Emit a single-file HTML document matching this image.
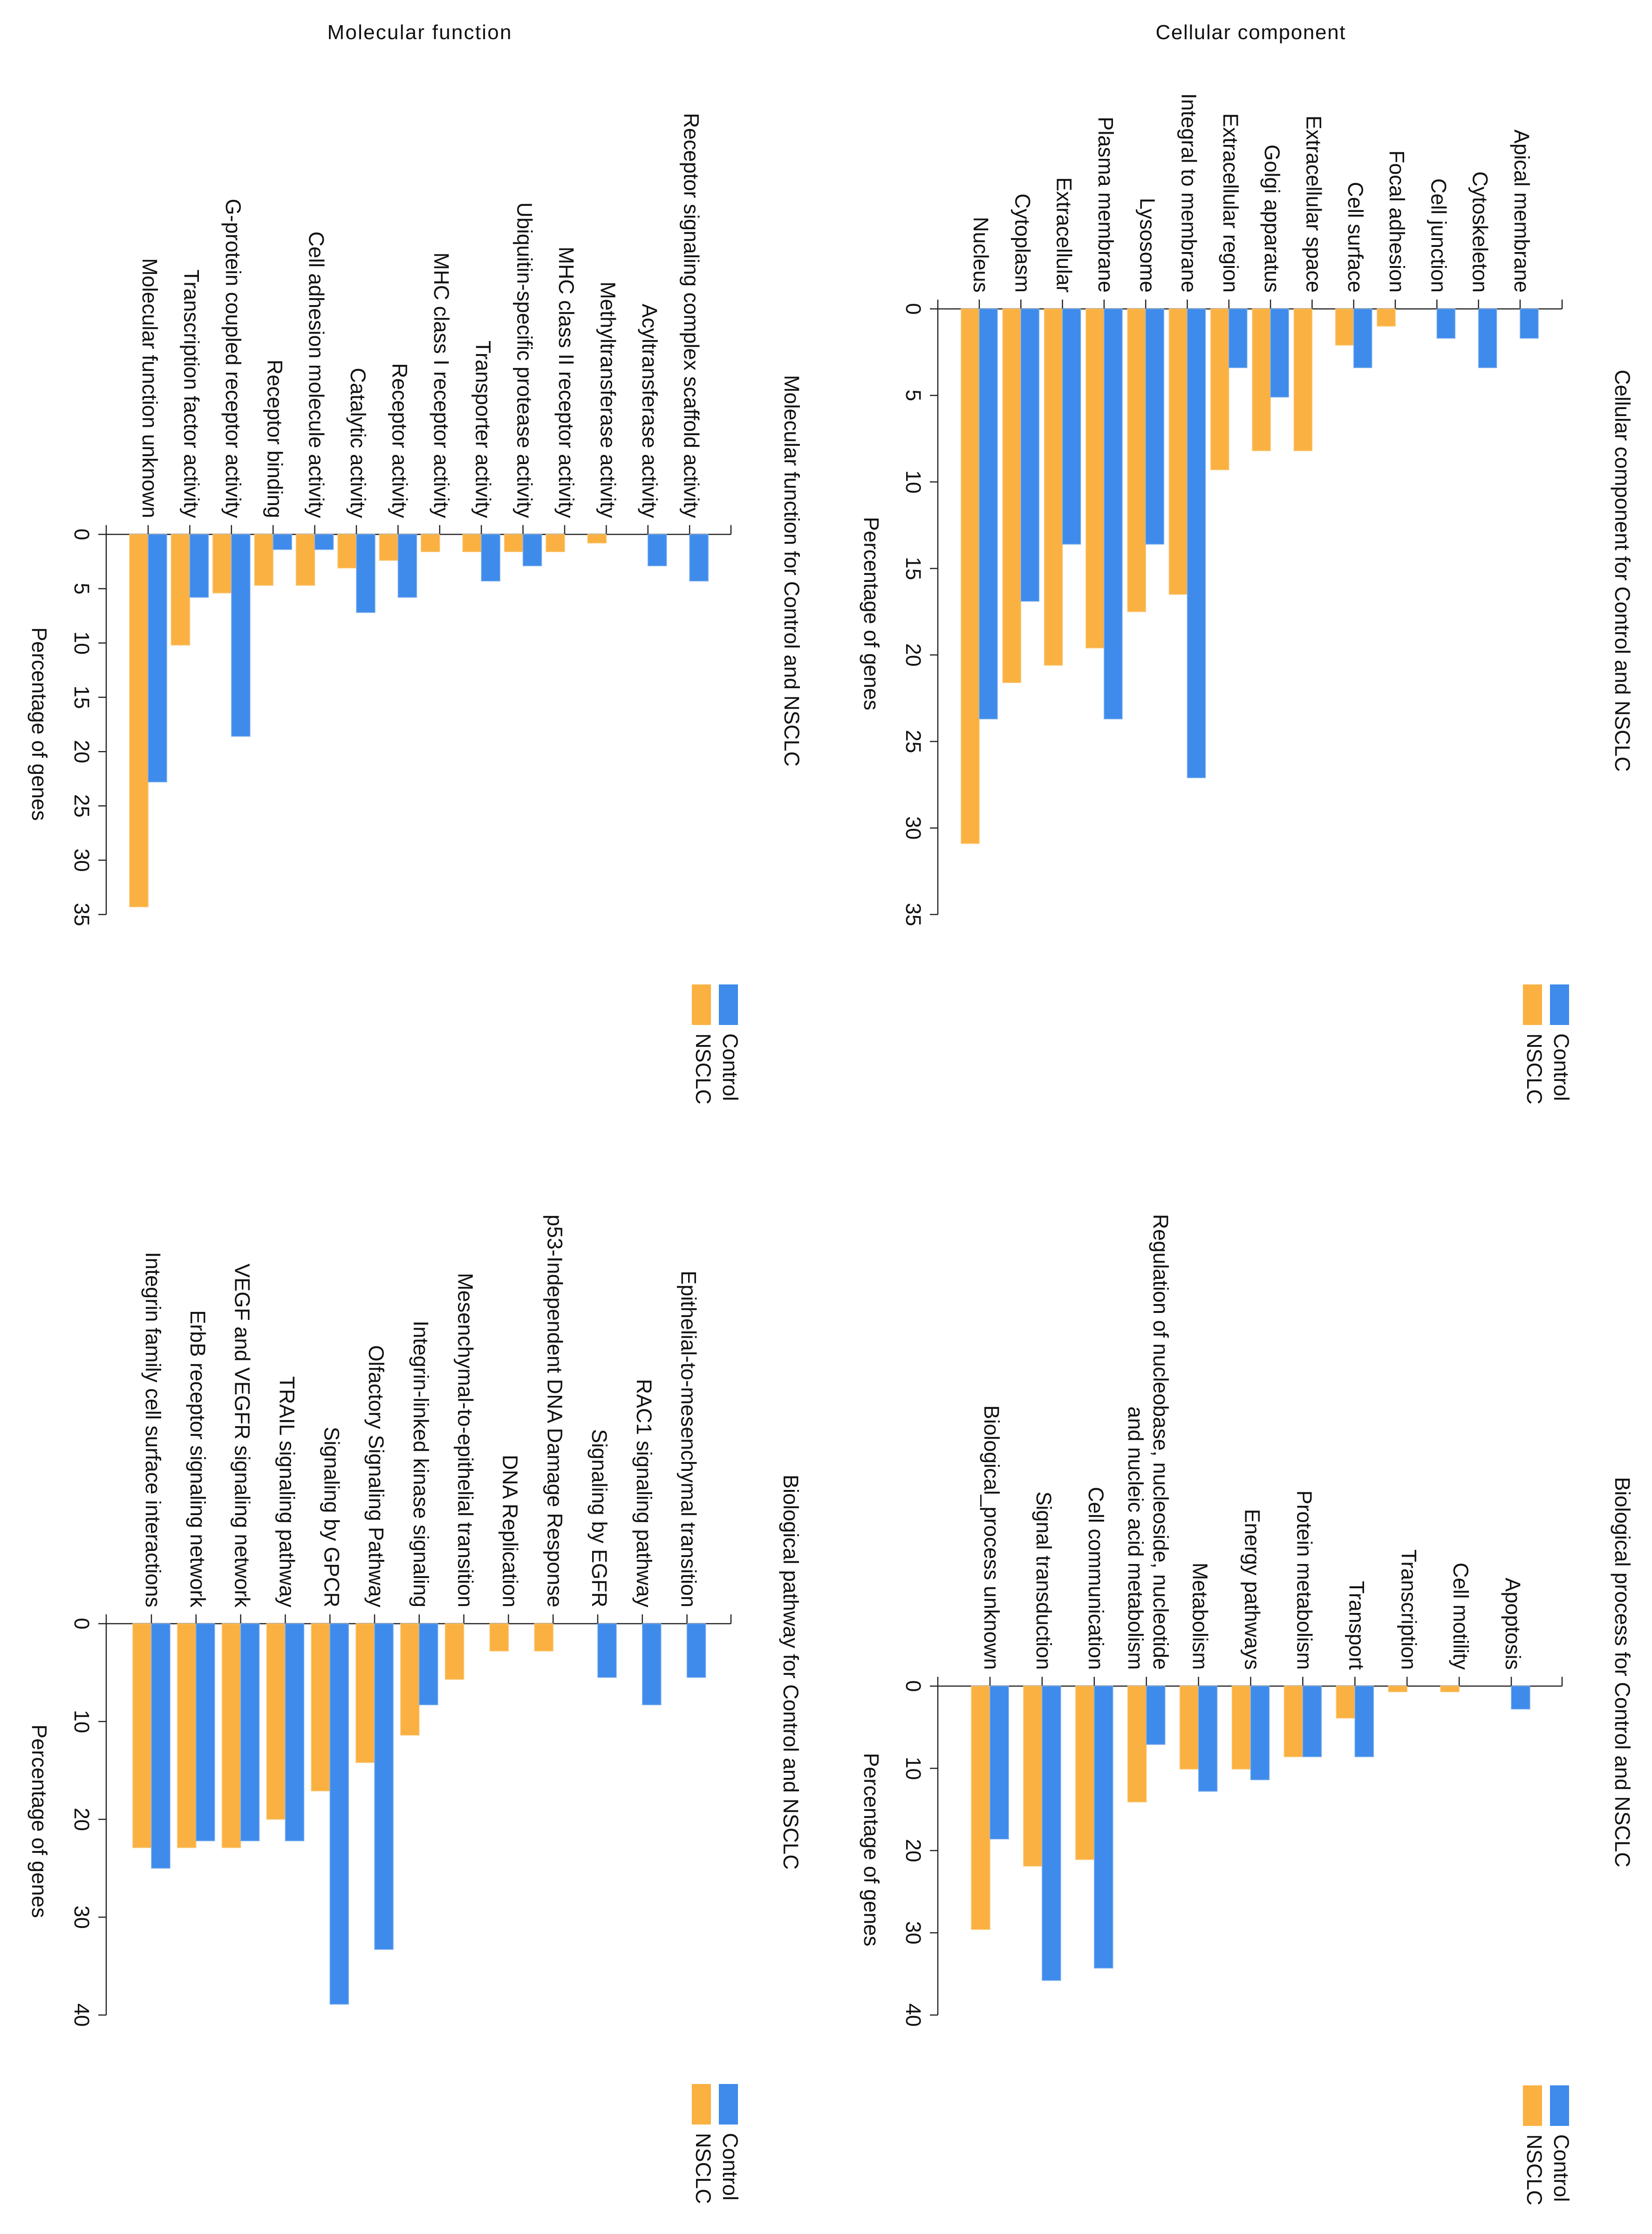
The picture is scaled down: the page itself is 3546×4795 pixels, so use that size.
<!DOCTYPE html>
<html><head><meta charset="utf-8"><style>
html,body{margin:0;padding:0;background:#fff;}
svg text{font-family:"Liberation Sans",Arial,sans-serif;fill:#111;}
</style></head><body>
<svg id="chart" xmlns="http://www.w3.org/2000/svg" width="3546" height="4790" viewBox="0 0 3546 4790">
<rect width="3546" height="4790" fill="#fff"/>
<text x="900" y="84" text-anchor="middle" font-size="44" textLength="395">Molecular function</text>
<text x="2684" y="84" text-anchor="middle" font-size="44" textLength="407">Cellular component</text>
</svg>
<script>
// ---- Cellular component data ----
const ccCategories = ["Nucleus","Cytoplasm","Extracellular","Plasma membrane","Lysosome","Integral to membrane","Extracellular region","Golgi apparatus","Extracellular space","Cell surface","Focal adhesion","Cell junction","Cytoskeleton","Apical membrane"];
const ccNsclc = [30.9,21.6,20.6,19.6,17.5,16.5,9.3,8.2,8.2,2.1,1.0,0,0,0];
const ccControl = [23.7,16.9,13.6,23.7,13.6,27.1,3.4,5.1,0,3.4,0,1.7,3.4,1.7];
const ccTicks = [0,5,10,15,20,25,30,35];
// ---- Molecular function data ----
const mfCategories = ["Molecular function unknown","Transcription factor activity","G-protein coupled receptor activity","Receptor binding","Cell adhesion molecule activity","Catalytic activity","Receptor activity","MHC class I receptor activity","Transporter activity","Ubiquitin-specific protease activity","MHC class II receptor activity","Methyltransferase activity","Acyltransferase activity","Receptor signaling complex scaffold activity"];
const mfNsclc = [34.3,10.2,5.4,4.7,4.7,3.1,2.4,1.6,1.6,1.6,1.6,0.8,0,0];
const mfControl = [22.8,5.8,18.6,1.4,1.4,7.2,5.8,0,4.3,2.9,0,0,2.9,4.3];
const mfTicks = [0,5,10,15,20,25,30,35];
// ---- Biological process data ----
const bpCategories = ["Biological_process unknown","Signal transduction","Cell communication","Regulation of nucleobase, nucleoside, nucleotide|and nucleic acid metabolism","Metabolism","Energy pathways","Protein metabolism","Transport","Transcription","Cell motility","Apoptosis"];
const bpNsclc = [29.6,21.9,21.1,14.1,10.1,10.1,8.6,3.9,0.7,0.7,0];
const bpControl = [18.6,35.8,34.3,7.1,12.8,11.4,8.6,8.6,0,0,2.8];
const bpTicks = [0,10,20,30,40];
// ---- Biological pathway data ----
const pwCategories = ["Integrin family cell surface interactions","ErbB receptor signaling network","VEGF and VEGFR signaling network","TRAIL signaling pathway","Signaling by GPCR","Olfactory Signaling Pathway","Integrin-linked kinase signaling","Mesenchymal-to-epithelial transition","DNA Replication","p53-Independent DNA Damage Response","Signaling by EGFR","RAC1 signaling pathway","Epithelial-to-mesenchymal transition"];
const pwNsclc = [22.9,22.9,22.9,20.0,17.1,14.2,11.4,5.7,2.8,2.8,0,0,0];
const pwControl = [25.0,22.2,22.2,22.2,38.9,33.3,8.3,0,0,0,5.5,8.3,5.5];
const pwTicks = [0,10,20,30,40];

const NS="http://www.w3.org/2000/svg";
const svg=document.getElementById('chart');
const ORANGE="#FAB141", BLUE="#3E8BEB";
const FS=45;
function mk(tag,attrs,parent){const e=document.createElementNS(NS,tag);for(const k in attrs)e.setAttribute(k,attrs[k]);(parent||svg).appendChild(e);return e;}

function panel(p, cats, nsclc, control, ticks){
  const g=mk('g',{});
  
  
  const maxV=ticks[ticks.length-1];
  const vy=v=>p.y0+v*p.ppu;
  const cx=i=>p.x0+i*p.step;
  const ax=mk('line',{x1:p.ax0,y1:p.y0,x2:p.ax1,y2:p.y0,stroke:'#222','stroke-width':2.5},g);
  
  
  mk('line',{x1:p.ax1,y1:p.y0-20,x2:p.ax1,y2:p.y0,stroke:'#222','stroke-width':2.5},g);
  const vax=mk('line',{x1:p.ax0,y1:p.y0-20,x2:p.ax0,y2:vy(maxV),stroke:'#222','stroke-width':2.5},g);
  
  
  ticks.forEach(t=>{
    mk('line',{x1:p.ax0-17,y1:vy(t),x2:p.ax0,y2:vy(t),stroke:'#222','stroke-width':2.5},g);
    const tl=mk('text',{transform:`translate(${p.ax0-56},${vy(t)}) rotate(90)`,'text-anchor':'middle','dominant-baseline':'middle','font-size':FS},g);
    tl.textContent=t;
    
    
  });
  cats.forEach((c,i)=>{
    const x=cx(i);
    mk('line',{x1:x,y1:p.y0-20,x2:x,y2:p.y0,stroke:'#222','stroke-width':2.5},g);
    const lines=c.split('|');
    lines.forEach((ln,j)=>{
      const off = lines.length>1 ? (j===0?27:-27) : 0;
      const t=mk('text',{transform:`translate(${x+off},${p.y0-35}) rotate(90)`,'text-anchor':'end','dominant-baseline':'middle','font-size':FS},g);
      t.textContent=ln;
      
      
    });
    if(nsclc[i]>0){
      const b=mk('rect',{x:x-p.bw,y:p.y0,width:p.bw,height:nsclc[i]*p.ppu,fill:ORANGE,stroke:'#fcc878','stroke-width':1.5},g);
      
      
    }
    if(control[i]>0){
      const b=mk('rect',{x:x,y:p.y0,width:p.bw,height:control[i]*p.ppu,fill:BLUE,stroke:'#7fb0ee','stroke-width':1.5},g);
      
      
    }
  });
  const yl=mk('text',{transform:`translate(${p.ylx},${p.yly}) rotate(90)`,'text-anchor':'middle','dominant-baseline':'middle','font-size':FS},g);
  yl.textContent='Percentage of genes';
  
  
  const rt=mk('text',{transform:`translate(${p.rtx},${p.rty}) rotate(90)`,'text-anchor':'middle','dominant-baseline':'middle','font-size':FS},g);
  rt.textContent=p.rtitle;
  
  
  const lb=mk('rect',{x:p.lgx+58,y:p.lgy,width:41,height:87,fill:BLUE},g);
  
  
  const lo=mk('rect',{x:p.lgx,y:p.lgy,width:41,height:87,fill:ORANGE},g);
  
  
  const t1=mk('text',{transform:`translate(${p.lgx+79},${p.lgy+105}) rotate(90)`,'text-anchor':'start','dominant-baseline':'middle','font-size':FS},g);
  t1.textContent='Control';
  
  
  const t2=mk('text',{transform:`translate(${p.lgx+21},${p.lgy+105}) rotate(90)`,'text-anchor':'start','dominant-baseline':'middle','font-size':FS},g);
  t2.textContent='NSCLC';
  
  
}

panel({id:'cc',y0:663,ppu:37.14,x0:2102,step:89.3,bw:39,ax0:2013,ax1:3353,ylx:1867,yly:1317,rtx:3479,rty:1225,rtitle:'Cellular component for Control and NSCLC',lgx:3269,lgy:2113}, ccCategories, ccNsclc, ccControl, ccTicks);
panel({id:'mf',y0:1147,ppu:23.31,x0:318,step:89.4,bw:40,ax0:228,ax1:1569,ylx:81,yly:1554,rtx:1696,rty:1225,rtitle:'Molecular function for Control and NSCLC',lgx:1485,lgy:2113}, mfCategories, mfNsclc, mfControl, mfTicks);
panel({id:'bp',y0:3619,ppu:17.65,x0:2125,step:111.9,bw:40,ax0:2013,ax1:3353,ylx:1867,yly:3970,rtx:3479,rty:3589,rtitle:'Biological process for Control and NSCLC',lgx:3269,lgy:4476}, bpCategories, bpNsclc, bpControl, bpTicks);
panel({id:'pw',y0:3485,ppu:21.0,x0:325,step:95.8,bw:40,ax0:228,ax1:1569,ylx:81,yly:3909,rtx:1694,rty:3589,rtitle:'Biological pathway for Control and NSCLC',lgx:1485,lgy:4473}, pwCategories, pwNsclc, pwControl, pwTicks);
</script>
</body></html>
